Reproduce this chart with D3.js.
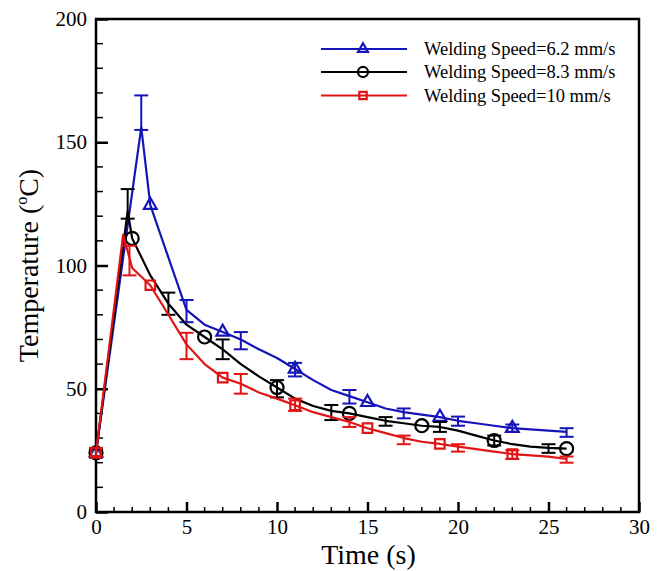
<!DOCTYPE html>
<html>
<head>
<meta charset="utf-8">
<script src="https://cdn.jsdelivr.net/npm/d3@7"></script>
<style>
  body { margin: 0; background: #fff; }
  text { font-family: "Liberation Serif", "Times New Roman", serif; fill: #000; }
</style>
</head>
<body>
<svg id="chart" width="662" height="571"></svg>
<script>
// values
const xTicks = [0, 5, 10, 15, 20, 25, 30]
const yTicks = [0, 50, 100, 150, 200]

const names = ['Welding Speed=6.2 mm/s', 'Welding Speed=8.3 mm/s', 'Welding Speed=10 mm/s']

// 6.2 mm/s
const blueTime = [0, 2.5, 3, 5, 6, 7, 8, 9, 10, 11, 12, 13, 14, 15, 16, 17, 18, 19, 20, 21, 22, 23, 24, 25, 26]
const blueTemp = [24, 156, 124.5, 82, 76, 73, 70, 66, 62.5, 58, 53.5, 49.5, 47, 44.5, 42, 40.5, 39.5, 38.5, 37, 36, 35, 34, 33.5, 33, 32.5]
const blueMarks = [0, 3, 7, 11, 15, 19, 23]
const blueErr = [[0, 22, 26], [2.5, 155, 169], [5, 77, 86], [8, 66, 73], [11, 55, 60.5], [14, 44, 49.5],
  [17, 38, 42], [20, 35, 38.7], [23, 32.5, 35.5], [26, 30.5, 34]]

// 8.3 mm/s
const blackTime = [0, 1.75, 2, 3, 4, 5, 6, 7, 8, 9, 10, 11, 12, 13, 14, 15, 16, 17, 18, 19, 20, 21, 22, 23, 24, 25, 26]
const blackTemp = [24, 122, 111, 96, 84.5, 76, 71, 66, 60, 55, 50.5, 46, 43, 41, 40, 38.5, 37, 36, 35, 34.5, 33, 31, 29, 27.5, 26.5, 26, 25.7]
const blackMarks = [0, 2, 6, 10, 14, 18, 22, 26]
const blackErr = [[0, 22.5, 25.5], [1.75, 119, 131], [4, 80, 89], [7, 62, 70], [10, 46.5, 53.5], [13, 37.3, 43.4],
  [16, 35, 38.5], [19, 32.5, 36.5], [22, 27, 31], [25, 24, 27.5]]

// 10 mm/s
const redTime = [0, 1.5, 2, 3, 4, 5, 6, 7, 8, 9, 10, 11, 12, 13, 14, 15, 16, 17, 18, 19, 20, 21, 22, 23, 24, 25, 26]
const redTemp = [24, 112.5, 99, 92, 80, 68, 60, 54.5, 52, 48.5, 46, 43.3, 40.5, 38.5, 36.5, 34, 32, 30, 28.5, 27.6, 26.5, 25.5, 24.5, 23.5, 23, 22.5, 21.5]
const redMarks = [0, 3, 7, 11, 15, 19, 23]
const redErr = [[0, 22.5, 26], [1.85, 96, 108], [5, 62, 72.7], [8, 48, 56], [11, 41, 46], [14, 34.5, 38.5],
  [17, 27.5, 31], [20, 24.5, 27.5], [23, 21.5, 25], [26, 20, 22.5]]

const config = { left: 96, right: 639, top: 19, bottom: 512 }

const series = [
  { name: names[0], color: '#1414b8', symbol: d3.symbolTriangle, size: 70, time: blueTime, temp: blueTemp, marks: blueMarks, err: blueErr },
  { name: names[1], color: '#000000', symbol: d3.symbolCircle, size: 133, time: blackTime, temp: blackTemp, marks: blackMarks, err: blackErr },
  { name: names[2], color: '#e01414', symbol: d3.symbolSquare, size: 90, time: redTime, temp: redTemp, marks: redMarks, err: redErr }
]

const svg = d3.select('#chart')

const x = d3.scaleLinear().domain([0, 30]).range([config.left, config.right])
const y = d3.scaleLinear().domain([0, 200]).range([config.bottom, config.top])

function drawAxes() {
  const g = svg.append('g').attr('id', 'axes')

  // minor ticks (inside)
  g.selectAll('.xminor').data(d3.range(0, 31, 1).filter(d => d % 5 !== 0))
    .enter().append('line')
    .attr('x1', d => x(d)).attr('x2', d => x(d))
    .attr('y1', config.bottom).attr('y2', config.bottom - 5)
    .attr('stroke', '#000').attr('stroke-width', 1.5)
  g.selectAll('.yminor').data(d3.range(0, 201, 10).filter(d => d % 50 !== 0))
    .enter().append('line')
    .attr('y1', d => y(d)).attr('y2', d => y(d))
    .attr('x1', config.left).attr('x2', config.left + 7)
    .attr('stroke', '#000').attr('stroke-width', 1.5)

  // major ticks
  const xAxis = d3.axisBottom(x).tickValues(xTicks).tickSizeInner(-10).tickSizeOuter(0).tickPadding(7)
  const gx = g.append('g').attr('transform', 'translate(0,' + config.bottom + ')').call(xAxis)
  const yAxis = d3.axisLeft(y).tickValues(yTicks).tickSizeInner(-12).tickSizeOuter(0).tickPadding(9)
  const gy = g.append('g').attr('transform', 'translate(' + config.left + ',0)').call(yAxis)

  ;[gx, gy].forEach(a => {
    a.select('.domain').remove()
    a.selectAll('.tick line').attr('stroke', '#000').attr('stroke-width', 2.5)
    a.selectAll('.tick text')
      .style('font-size', '21px')
      .style('font-family', '"Liberation Serif", "Times New Roman", serif')
      .attr('fill', '#000')
  })

  // frame
  g.append('rect')
    .attr('x', config.left).attr('y', config.top)
    .attr('width', config.right - config.left).attr('height', config.bottom - config.top)
    .attr('fill', 'none').attr('stroke', '#000').attr('stroke-width', 2.5)

  // titles
  svg.append('text')
    .attr('x', (config.left + config.right) / 2 + 1).attr('y', 564)
    .attr('text-anchor', 'middle').attr('font-size', 28)
    .text('Time (s)')

  const yt = svg.append('text')
    .attr('transform', 'translate(38,' + ((config.top + config.bottom) / 2) + ') rotate(-90)')
    .attr('text-anchor', 'middle').attr('font-size', 28)
  yt.append('tspan').text('Temperature (')
  yt.append('tspan').attr('font-size', 16).attr('dy', -11).text('o')
  yt.append('tspan').attr('dy', 11).text('C)')
}

function drawSeries() {
  const line = d3.line()
    .x(d => x(d[0]))
    .y(d => y(d[1]))

  series.forEach(s => {
    const g = svg.append('g').attr('class', 'series')
    const pts = s.time.map((t, i) => [t, s.temp[i]])

    g.append('path')
      .datum(pts)
      .attr('d', line)
      .attr('fill', 'none')
      .attr('stroke', s.color)
      .attr('stroke-width', 2.2)
      .attr('stroke-linejoin', 'round')

    // error bars
    const eb = g.selectAll('.err').data(s.err).enter().append('g')
    eb.append('line')
      .attr('x1', d => x(d[0])).attr('x2', d => x(d[0]))
      .attr('y1', d => y(d[1])).attr('y2', d => y(d[2]))
      .attr('stroke', s.color).attr('stroke-width', 2)
    eb.append('line')
      .attr('x1', d => x(d[0]) - 7).attr('x2', d => x(d[0]) + 7)
      .attr('y1', d => y(d[1])).attr('y2', d => y(d[1]))
      .attr('stroke', s.color).attr('stroke-width', 2)
    eb.append('line')
      .attr('x1', d => x(d[0]) - 7).attr('x2', d => x(d[0]) + 7)
      .attr('y1', d => y(d[2])).attr('y2', d => y(d[2]))
      .attr('stroke', s.color).attr('stroke-width', 2)

    // markers
    const markPts = pts.filter(p => s.marks.includes(p[0]))
    g.selectAll('.mark').data(markPts).enter().append('path')
      .attr('d', d3.symbol().type(s.symbol).size(s.size))
      .attr('transform', d => 'translate(' + x(d[0]) + ',' + y(d[1]) + ')')
      .attr('fill', 'none')
      .attr('stroke', s.color)
      .attr('stroke-width', 2.2)
  })
}

function drawLegend() {
  const g = svg.append('g').attr('id', 'legend')
  const rows = [49, 72, 95.5]
  series.forEach((s, i) => {
    g.append('line')
      .attr('x1', 321).attr('x2', 407)
      .attr('y1', rows[i]).attr('y2', rows[i])
      .attr('stroke', s.color).attr('stroke-width', 2.2)
    g.append('path')
      .attr('d', d3.symbol().type(s.symbol).size(s.size * 0.6))
      .attr('transform', 'translate(363,' + rows[i] + ')')
      .attr('fill', 'none').attr('stroke', s.color).attr('stroke-width', 2.2)
    g.append('text')
      .attr('x', 424).attr('y', rows[i] + 6)
      .attr('font-size', 18.5)
      .text(s.name)
  })
}

drawAxes()
drawSeries()
drawLegend()
</script>
</body>
</html>
